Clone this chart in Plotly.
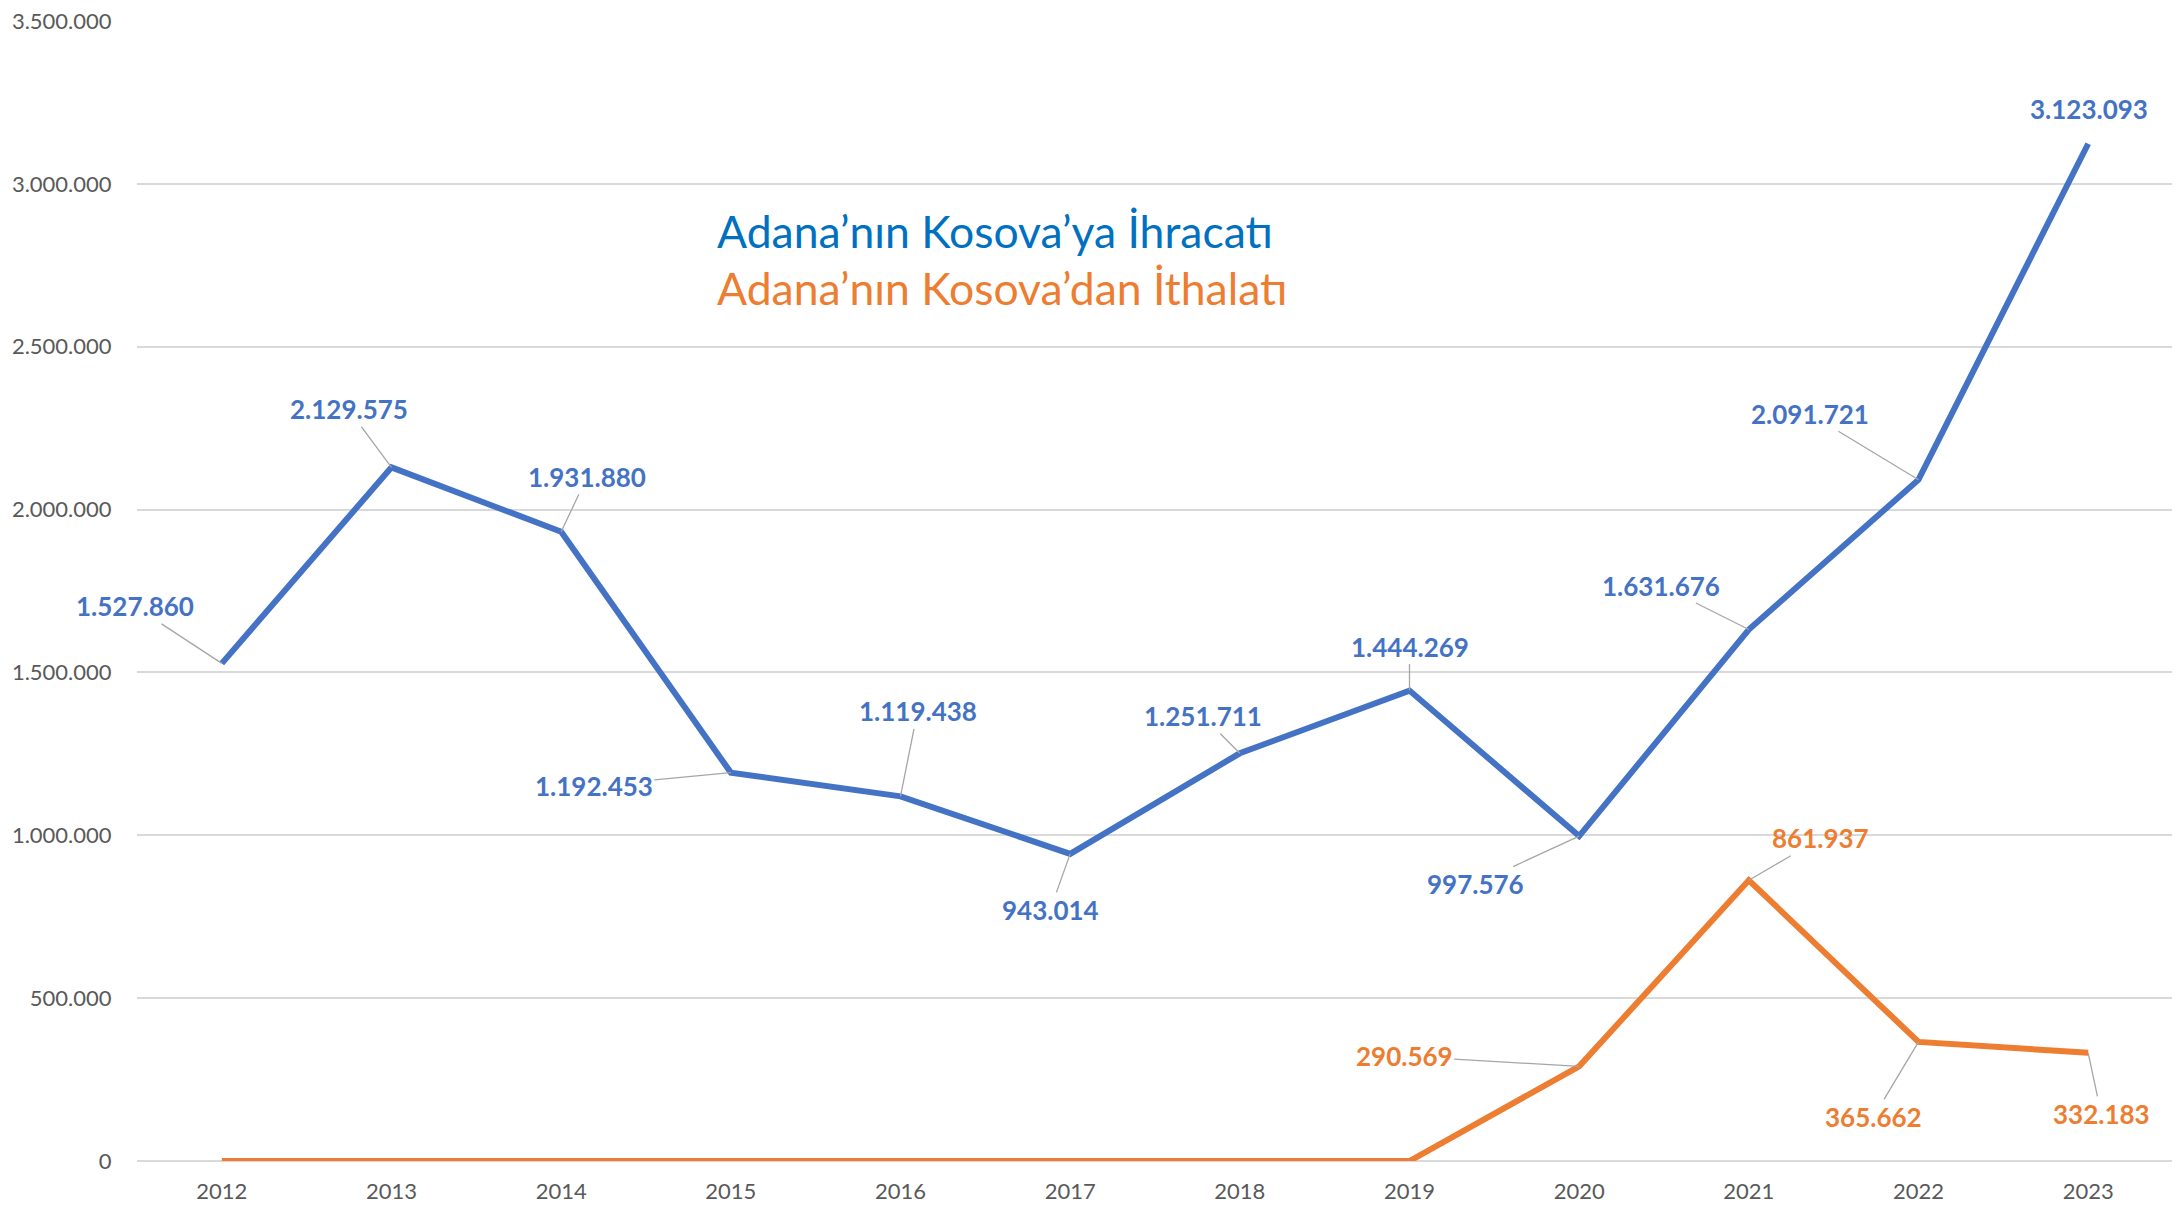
import plotly.graph_objects as go

years = ["2012", "2013", "2014", "2015", "2016", "2017", "2018", "2019", "2020", "2021", "2022", "2023"]
ihracat = [1527860, 2129575, 1931880, 1192453, 1119438, 943014, 1251711, 1444269, 997576, 1631676, 2091721, 3123093]
ithalat = [0, 0, 0, 0, 0, 0, 0, 0, 290569, 861937, 365662, 332183]

title_export = "Adana’nın Kosova’ya İhracatı"
title_import = "Adana’nın Kosova’dan İthalatı"

BLUE = "#4472C4"
ORANGE = "#ED7D31"
FONT = "Lato, Carlito, Calibri, sans-serif"

# label offsets in pixels (label centre relative to point)
exp_offsets = [(-87, -57), (-43, -58), (26, -55), (-137, 13), (17, -85), (-20, 56),
               (-37, -37), (0, -44), (-104, 48), (-88, -44), (-109, -66), (1, -35)]
exp_leader = [True] * 11 + [False]
imp_offsets = {8: (-175, -10), 9: (72, -42), 10: (-45, 75), 11: (13, 61)}


def fmt(v):
    return f"{v:,}".replace(",", ".")


fig = go.Figure()
fig.add_trace(go.Scatter(x=years, y=ihracat, mode="lines", name=title_export,
                         line=dict(color=BLUE, width=6), hoverinfo="x+y"))
fig.add_trace(go.Scatter(x=years, y=ithalat, mode="lines", name=title_import,
                         line=dict(color=ORANGE, width=6), hoverinfo="x+y"))

annotations = []
for i, v in enumerate(ihracat):
    dx, dy = exp_offsets[i]
    annotations.append(dict(
        x=i, y=v, xref="x", yref="y", text=f"<b>{fmt(v)}</b>",
        showarrow=True, ax=dx, ay=dy, arrowhead=0, arrowwidth=1.3,
        arrowcolor="#A6A6A6" if exp_leader[i] else "rgba(0,0,0,0)", standoff=0,
        font=dict(family=FONT, size=26, color=BLUE)))
for i, v in enumerate(ithalat):
    if i in imp_offsets:
        dx, dy = imp_offsets[i]
        annotations.append(dict(
            x=i, y=v, xref="x", yref="y", text=f"<b>{fmt(v)}</b>",
            showarrow=True, ax=dx, ay=dy, arrowhead=0, arrowwidth=1.3,
            arrowcolor="#A6A6A6", standoff=0,
            font=dict(family=FONT, size=26, color=ORANGE)))

annotations.append(dict(x=0.284, y=0.8161, xref="paper", yref="paper", text=title_export,
                        showarrow=False, xanchor="left", yanchor="middle",
                        font=dict(family=FONT, size=44.5, color="#0070C0")))
annotations.append(dict(x=0.284, y=0.7660, xref="paper", yref="paper", text=title_import,
                        showarrow=False, xanchor="left", yanchor="middle",
                        font=dict(family=FONT, size=44.5, color=ORANGE)))

# the page body has an 8px default margin, so the figure is offset by 8px
fig.update_layout(
    width=2172, height=1198,
    margin=dict(l=129, r=7, t=13, b=45),
    paper_bgcolor="white", plot_bgcolor="white",
    showlegend=False,
    separators=",.",
    font=dict(family=FONT, size=22, color="#595959"),
    annotations=annotations,
)
fig.update_xaxes(type="category", range=[-0.5, 11.5], showgrid=False, zeroline=False, showline=False,
                 ticks="outside", ticklen=11, tickcolor="rgba(0,0,0,0)", automargin=False,
                 tickfont=dict(family=FONT, size=22, color="#595959"))
fig.update_yaxes(range=[0, 3500000], dtick=500000, tickformat=",d",
                 showgrid=True, gridcolor="#D9D9D9", gridwidth=1.5,
                 zeroline=True, zerolinecolor="#D9D9D9", zerolinewidth=1.5,
                 showline=False, ticks="outside", ticklen=20, tickcolor="rgba(0,0,0,0)",
                 automargin=False, ticklabeloverflow="allow",
                 tickfont=dict(family=FONT, size=22, color="#595959"))

fig.write_html("out.html")
